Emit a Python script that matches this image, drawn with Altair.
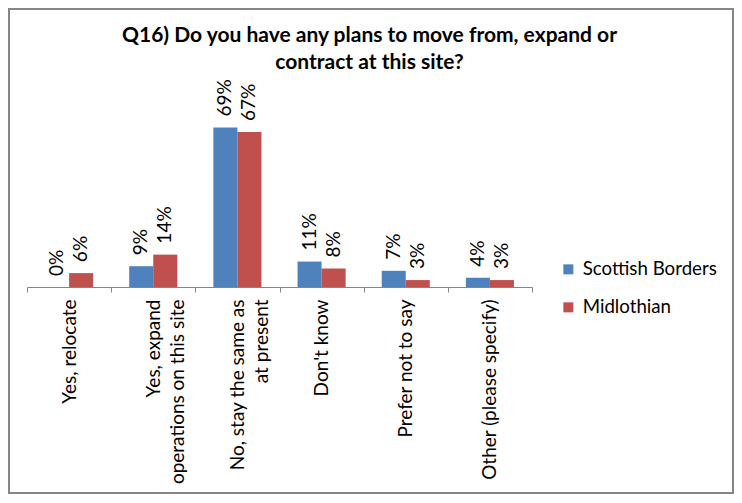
import altair as alt
import pandas as pd

categories = [
    "Yes, relocate",
    "Yes, expand\noperations on this site",
    "No, stay the same as\nat present",
    "Don't know",
    "Prefer not to say",
    "Other (please specify)",
]
series = ["Scottish Borders", "Midlothian"]
scottish_borders = [0, 9, 69, 11, 7, 4]
midlothian = [6, 14, 67, 8, 3, 3]
colors = ["#4F81BD", "#C0504D"]
title_lines = ["Q16) Do you have any plans to move from, expand or", "contract at this site?"]

rows = []
for i, c in enumerate(categories):
    rows.append({"category": c, "series": series[0], "value": scottish_borders[i]})
    rows.append({"category": c, "series": series[1], "value": midlothian[i]})
df = pd.DataFrame(rows)
df["label"] = df["value"].astype(str) + "%"

W, H = 505, 185
FONT = "Lato"

base = alt.Chart(df).encode(
    x=alt.X(
        "category:N",
        sort=categories,
        scale=alt.Scale(paddingInner=0, paddingOuter=0),
        axis=alt.Axis(
            title=None,
            labelAngle=-90,
            labelAlign="right",
            labelBaseline="middle",
            labelExpr="split(datum.label, '\\n')",
            tickBand="extent",
            domainColor="#868686",
            tickColor="#868686",
            tickSize=5,
            labelFont=FONT,
            labelFontSize=19,
            labelColor="black",
            labelLineHeight=24,
            labelPadding=7,
            labelLimit=0,
            grid=False,
        ),
    ),
    xOffset=alt.XOffset("series:N", sort=series, scale=alt.Scale(paddingInner=0, paddingOuter=0.75)),
    y=alt.Y("value:Q", scale=alt.Scale(domain=[0, 80]), axis=None),
)

bars = base.mark_bar().encode(
    color=alt.Color(
        "series:N",
        sort=series,
        scale=alt.Scale(domain=series, range=colors),
        legend=alt.Legend(
            orient="none",
            legendX=532,
            legendY=158,
            title=None,
            symbolType="square",
            symbolSize=100,
            symbolStrokeWidth=0,
            labelFont=FONT,
            labelFontSize=18.7,
            labelColor="black",
            labelOffset=5,
            rowPadding=18,
        ),
    )
)

text = base.mark_text(
    angle=270, align="left", baseline="middle", dx=11, font=FONT, fontSize=19, color="black"
).encode(text="label:N")

border = alt.Chart(pd.DataFrame({"b": [0]})).mark_rect(
    fillOpacity=0, stroke="#868686", strokeWidth=2
).encode(
    x=alt.value(-18), x2=alt.value(706), y=alt.value(-93), y2=alt.value(391)
)

chart = alt.layer(bars, text, border).properties(
    width=W,
    height=H,
    autosize=alt.AutoSizeParams(type="none"),
    padding={"left": 19, "top": 94, "right": 202, "bottom": 207},
    title=alt.TitleParams(
        text=title_lines,
        font=FONT,
        fontSize=21,
        fontWeight="bold",
        color="black",
        anchor="middle",
        frame="group",
        dx=90,
        lineHeight=27,
        offset=-65,
    ),
).configure(background="white", view=alt.ViewConfig(stroke=None))

chart.save("out.html", embed_options={"renderer": "svg", "actions": False})
